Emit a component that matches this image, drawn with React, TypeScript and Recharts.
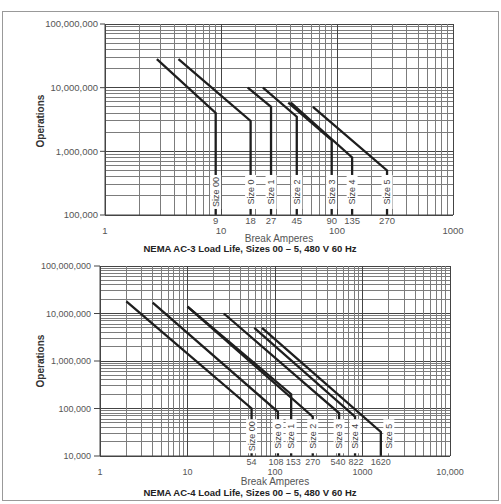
import { LineChart, Line, XAxis, YAxis, ReferenceLine, ReferenceDot } from "recharts";

const SIZES = ["Size 00", "Size 0", "Size 1", "Size 2", "Size 3", "Size 4", "Size 5"];

// NEMA AC-3
const AC3_BREAK_AMPS = [9, 18, 27, 45, 90, 135, 270];
const AC3_START_AMPS = [2.8, 4.3, 17, 23, 38, 40, 62];
const AC3_START_OPS = [2.8e7, 2.8e7, 1e7, 1e7, 5.8e6, 5.8e6, 5e6];
const AC3_END_OPS = [4e6, 3e6, 5e6, 3.5e6, 1.5e6, 8e5, 5e5];
const AC3_X_DECADES = [1, 10, 100, 1000];
const AC3_Y_TICKS = [1e5, 1e6, 1e7, 1e8];

// NEMA AC-4
const AC4_BREAK_AMPS = [54, 108, 153, 270, 540, 822, 1620];
const AC4_START_AMPS = [2, 4, 10, 10, 26, 58, 71];
const AC4_START_OPS = [1.8e7, 1.7e7, 1.4e7, 1.4e7, 1e7, 5e6, 5e6];
const AC4_END_OPS = [1e5, 8.5e4, 2e5, 6.7e4, 8e4, 6.7e4, 3.2e4];
const AC4_X_DECADES = [1, 10, 100, 1000, 10000];
const AC4_Y_TICKS = [1e4, 1e5, 1e6, 1e7, 1e8];

const FONT = "'Liberation Sans', Arial, sans-serif";

function logGrid(lo: number, hi: number) {
  const out: number[] = [];
  for (let d = Math.round(Math.log10(lo)); Math.pow(10, d) <= hi; d++) {
    for (let k = 1; k <= 9; k++) {
      const v = k * Math.pow(10, d);
      if (v <= hi) out.push(v);
    }
  }
  return out;
}

// commas only from 10,000 up, as in the printed chart
const fmt = (v: number) => (v >= 10000 ? v.toLocaleString("en-US") : String(v));

function AmpTick(props: any) {
  const { x, y, payload, decades, fontSize, nudge } = props;
  const isDecade = decades.includes(payload.value);
  const dx = (nudge && nudge[payload.value]) || 0;
  return (
    <text x={x + dx} y={y} dy={isDecade ? 18.5 : 9} textAnchor="middle" fontSize={fontSize} fill="#555" fontFamily={FONT}>
      {fmt(payload.value)}
    </text>
  );
}

function SizeTag({ cx, cy, text, dx = 0 }: any) {
  return (
    <g transform={`translate(${cx + dx},${cy}) rotate(-90)`}>
      <rect x={-17} y={-5.5} width={34} height={11} fill="#fff" />
      <text x={0} y={0} dy={3.2} textAnchor="middle" fontSize={9} fill="#444" fontFamily={FONT}>
        {text}
      </text>
    </g>
  );
}

function LoadLifeChart(p: any) {
  const xMin = p.xDecades[0];
  const xMax = p.xDecades[p.xDecades.length - 1];
  const yMin = p.yTicks[0];
  const yMax = p.yTicks[p.yTicks.length - 1];
  const xGrid = logGrid(xMin, xMax);
  const yGrid = logGrid(yMin, yMax);
  const isMajor = (v: number) => Math.abs(Math.log10(v) - Math.round(Math.log10(v))) < 1e-9;

  return (
    <LineChart width={p.width} height={p.height} margin={p.margin}>
      <XAxis
        type="number"
        dataKey="a"
        scale="log"
        domain={[xMin, xMax]}
        allowDataOverflow
        ticks={[...p.xDecades, ...p.breakAmps]}
        interval={0}
        tickLine={false}
        tickSize={0}
        tickMargin={0}
        height={30}
        axisLine={{ stroke: "#444" }}
        tick={<AmpTick decades={p.xDecades} fontSize={p.xFont} nudge={p.nudge} />}
      />
      <YAxis
        type="number"
        dataKey="ops"
        scale="log"
        domain={[yMin, yMax]}
        allowDataOverflow
        ticks={p.yTicks}
        interval={0}
        width={60}
        tickSize={p.yTickSize}
        tickMargin={p.yTickMargin}
        tickFormatter={(v: number) => v.toLocaleString("en-US")}
        tick={{ fontSize: p.yFont, fill: "#555", fontFamily: FONT }}
        tickLine={{ stroke: "#444" }}
        axisLine={{ stroke: "#444" }}
      />
      {yGrid.map((v) => (
        <ReferenceLine key={"gy" + v} y={v} stroke={isMajor(v) ? "#444" : "#7c7c7c"} strokeWidth={1} shapeRendering="crispEdges" />
      ))}
      {xGrid.map((v) => (
        <ReferenceLine key={"gx" + v} x={v} stroke={isMajor(v) ? "#444" : "#7c7c7c"} strokeWidth={1} shapeRendering="crispEdges" />
      ))}
      {SIZES.map((s, i) => (
        <Line
          key={s}
          data={[
            { a: p.startAmps[i], ops: p.startOps[i] },
            { a: p.breakAmps[i], ops: p.endOps[i] },
            { a: p.breakAmps[i], ops: yMin },
          ]}
          dataKey="ops"
          type="linear"
          stroke="#1e1e1e"
          strokeWidth={2.3}
          dot={false}
          isAnimationActive={false}
        />
      ))}
      {SIZES.map((s, i) => (
        <ReferenceDot
          key={"tag" + s}
          x={p.breakAmps[i]}
          y={p.labelOps}
          r={0}
          shape={(q: any) => <SizeTag cx={q.cx} cy={q.cy} text={s} dx={i === 6 ? p.lastTagDx : 0} />}
        />
      ))}
    </LineChart>
  );
}

const caption = (top: number, centerX: number, text: string, bold: boolean, size: number) => (
  <div
    style={{
      position: "absolute",
      top,
      left: centerX - 150,
      width: 300,
      textAlign: "center",
      fontFamily: FONT,
      fontSize: size,
      fontWeight: bold ? 700 : 400,
      color: bold ? "#222" : "#555",
      lineHeight: "12px",
      whiteSpace: "nowrap",
    }}
  >
    {text}
  </div>
);

const opsLabel = (centerY: number) => (
  <div
    style={{
      position: "absolute",
      left: 41 - 40,
      top: centerY - 6,
      width: 80,
      height: 12,
      lineHeight: "12px",
      textAlign: "center",
      transform: "rotate(-90deg)",
      fontFamily: FONT,
      fontSize: 10,
      fontWeight: 700,
      color: "#333",
    }}
  >
    Operations
  </div>
);

export default function App() {
  return (
    <div style={{ position: "absolute", left: 0, top: 0, width: 501, height: 504, background: "#fff", overflow: "hidden" }}>
      <div style={{ position: "absolute", left: 2, top: 11, width: 497, height: 490, border: "1px solid #999", boxSizing: "border-box" }} />
      <div style={{ position: "absolute", left: 0, top: 0 }}>
        <LoadLifeChart
          width={501}
          height={260}
          margin={{ top: 24, right: 48, bottom: 15, left: 45 }}
          xDecades={AC3_X_DECADES}
          yTicks={AC3_Y_TICKS}
          breakAmps={AC3_BREAK_AMPS}
          startAmps={AC3_START_AMPS}
          startOps={AC3_START_OPS}
          endOps={AC3_END_OPS}
          labelOps={2.3e5}
          lastTagDx={0}
          xFont={9.5}
          yFont={9.5}
          yTickSize={5}
          yTickMargin={2}
        />
      </div>
      <div style={{ position: "absolute", left: 0, top: 250 }}>
        <LoadLifeChart
          width={501}
          height={240}
          margin={{ top: 16, right: 51, bottom: 4, left: 40 }}
          xDecades={AC4_X_DECADES}
          yTicks={AC4_Y_TICKS}
          breakAmps={AC4_BREAK_AMPS}
          startAmps={AC4_START_AMPS}
          startOps={AC4_START_OPS}
          endOps={AC4_END_OPS}
          labelOps={2.6e4}
          lastTagDx={8}
          xFont={9}
          nudge={{ 108: -2, 153: 2, 540: -1, 822: 1 }}
          yFont={9}
          yTickSize={6}
          yTickMargin={3}
        />
      </div>
      {opsLabel(121)}
      {opsLabel(361)}
      {caption(233, 279, "Break Amperes", false, 10)}
      {caption(243, 250, "NEMA AC-3 Load Life, Sizes 00 \u2013 5, 480 V 60 Hz", true, 9.5)}
      {caption(476, 275, "Break Amperes", false, 10)}
      {caption(487, 250, "NEMA AC-4 Load Life, Sizes 00 \u2013 5, 480 V 60 Hz", true, 9.5)}
    </div>
  );
}
